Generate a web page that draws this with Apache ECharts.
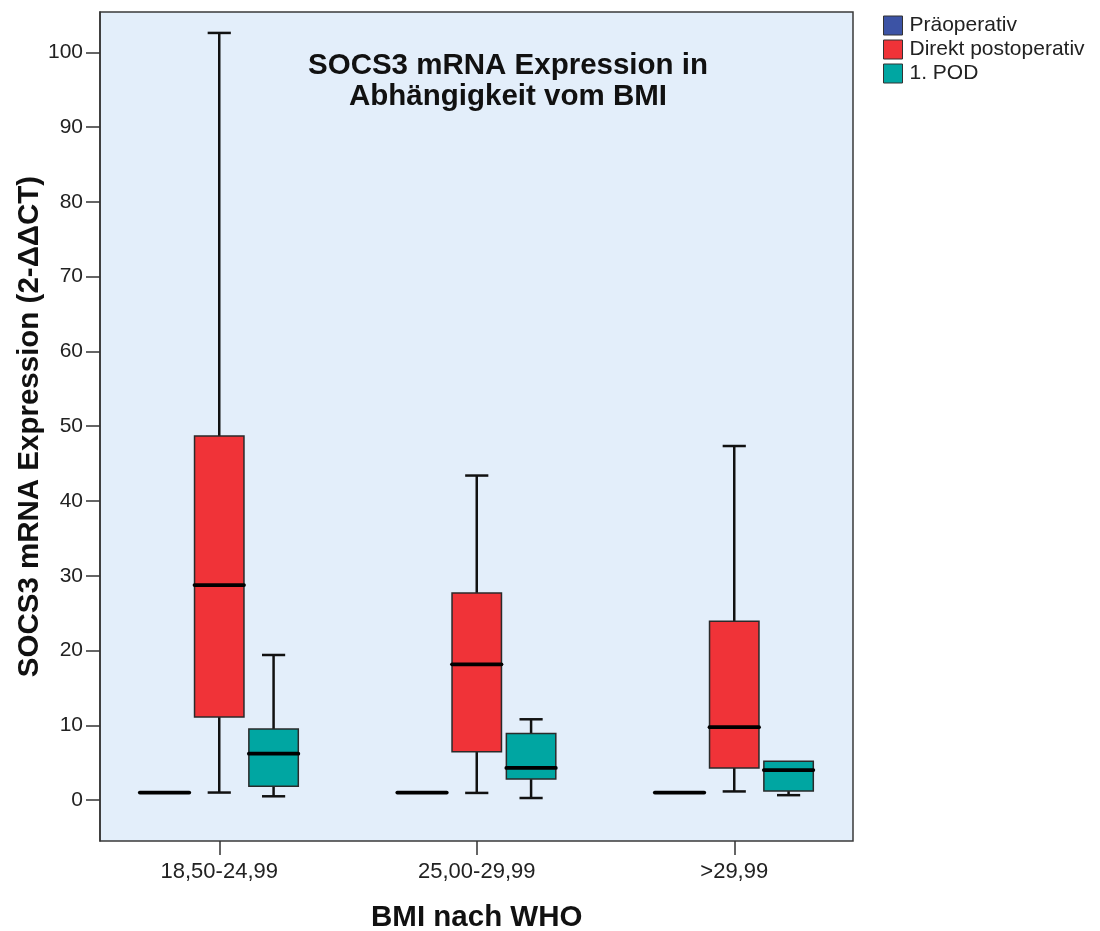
<!DOCTYPE html>
<html><head><meta charset="utf-8">
<script src="https://cdn.jsdelivr.net/npm/echarts@6/dist/echarts.min.js"></script>
<style>html,body{margin:0;padding:0;background:#fff}#c{width:1100px;height:931px}</style>
</head><body><div id="c"></div>
<script>
// ---- data ----
const categories = ['18,50-24,99', '25,00-29,99', '>29,99'];
const seriesNames = ['Präoperativ', 'Direkt postoperativ', '1. POD'];
// each row: [min, Q1, median, Q3, max]
const praeoperativ = [[1, 1, 1, 1, 1], [1, 1, 1, 1, 1], [1, 1, 1, 1, 1]];
const direktPostoperativ = [[1.0, 11.1, 28.75, 48.7, 102.6], [0.95, 6.45, 18.15, 27.7, 43.4], [1.15, 4.3, 9.75, 23.9, 47.35]];
const pod1 = [[0.5, 1.85, 6.2, 9.5, 19.4], [0.27, 2.8, 4.3, 8.9, 10.8], [0.65, 1.2, 4.0, 5.2, 5.2]];
const yTicks = [0, 10, 20, 30, 40, 50, 60, 70, 80, 90, 100];
const Y_MIN = -5.48, Y_MAX = 105.4;

// ---- styles ----
const colors = ['#3c53a5', '#f03338', '#00a6a2'];
const offsets = [-0.2125, 0, 0.2110];
const BOX_W = 0.192, CAP_W = 0.09;
const FONT = 'Liberation Sans, Arial, sans-serif';

function renderer(offset, fill) {
  return function (params, api) {
    const c = api.value(0);
    const band = api.size([1, 0])[0];
    const cx = api.coord([c, 0])[0] + offset * band;
    const hw = BOX_W * band / 2, cw = CAP_W * band / 2;
    const y = i => api.coord([c, api.value(i)])[1];
    const yMin = y(1), yQ1 = y(2), yMed = y(3), yQ3 = y(4), yMax = y(5);
    const wl = { stroke: '#111', lineWidth: 2.5, fill: null };
    const ch = [];
    if (yQ3 - yMax > 0.5) {
      ch.push({ type: 'line', shape: { x1: cx, y1: yQ3, x2: cx, y2: yMax }, style: wl });
      ch.push({ type: 'line', shape: { x1: cx - cw, y1: yMax, x2: cx + cw, y2: yMax }, style: wl });
    }
    if (yMin - yQ1 > 0.5) {
      ch.push({ type: 'line', shape: { x1: cx, y1: yQ1, x2: cx, y2: yMin }, style: wl });
      ch.push({ type: 'line', shape: { x1: cx - cw, y1: yMin, x2: cx + cw, y2: yMin }, style: wl });
    }
    ch.push({ type: 'rect', shape: { x: cx - hw, y: yQ3, width: 2 * hw, height: yQ1 - yQ3 },
      style: { fill: fill, stroke: '#2a2a2a', lineWidth: 1.5 } });
    ch.push({ type: 'line', shape: { x1: cx - hw, y1: yMed, x2: cx + hw, y2: yMed },
      style: { stroke: '#000', lineWidth: 3.8, lineCap: 'round' } });
    return { type: 'group', children: ch };
  };
}

const allData = [praeoperativ, direktPostoperativ, pod1];
const series = seriesNames.map((name, s) => ({
  name: name,
  type: 'custom',
  xAxisIndex: 1, yAxisIndex: 1,
  itemStyle: { color: colors[s] },
  encode: { x: 0, y: [1, 2, 3, 4, 5] },
  renderItem: renderer(offsets[s], colors[s]),
  data: allData[s].map((r, i) => [i].concat(r))
}));

const chart = echarts.init(document.getElementById('c'), null, { renderer: 'canvas' });
chart.setOption({
  animation: false,
  backgroundColor: '#ffffff',
  textStyle: { fontFamily: FONT },
  title: {
    text: 'SOCS3 mRNA Expression in\nAbhängigkeit vom BMI',
    left: 503, top: 45, textAlign: 'center',
    textStyle: { fontFamily: FONT, fontSize: 29.5, fontWeight: 'bold', color: '#111', lineHeight: 31 }
  },
  legend: {
    orient: 'vertical', left: 878, top: 10,
    itemWidth: 19, itemHeight: 19, itemGap: 3,
    icon: 'rect',
    itemStyle: { borderColor: '#333', borderWidth: 1 },
    textStyle: { fontFamily: FONT, fontSize: 21, color: '#222', padding: [0, 0, 0, 2] },
    data: seriesNames
  },
  grid: [
    { left: 100, top: 12, width: 753, height: 829, show: true, backgroundColor: '#e3eefa', borderColor: '#3a3a3a', borderWidth: 1.5, outerBoundsMode: 'none', containLabel: false },
    { left: 90.5, top: 12, width: 772.5, height: 829, outerBoundsMode: 'none', containLabel: false }
  ],
  xAxis: [
    { gridIndex: 0, type: 'value', show: false, min: 0, max: 1 },
    {
      gridIndex: 1, type: 'category', data: categories,
      axisLine: { show: false, onZero: false },
      axisTick: { show: true, alignWithLabel: true, length: 14, lineStyle: { color: '#333', width: 1.5 } },
      axisLabel: { fontSize: 22, color: '#222', margin: 20, fontFamily: FONT },
      name: 'BMI nach WHO', nameLocation: 'middle', nameGap: 62,
      nameTextStyle: { fontSize: 29.5, fontWeight: 'bold', color: '#111', fontFamily: FONT }
    }
  ],
  yAxis: [
    {
      gridIndex: 0, type: 'value', min: Y_MIN, max: Y_MAX,
      axisLine: { show: true, onZero: false, lineStyle: { color: '#333', width: 1.5 } },
      axisTick: { show: true, inside: false, customValues: yTicks, length: 14, lineStyle: { color: '#333', width: 1.5 } },
      axisLabel: { customValues: yTicks, fontSize: 21, color: '#222', margin: 17, fontFamily: FONT },
      splitLine: { show: false },
      name: 'SOCS3 mRNA Expression (2-ΔΔCT)', nameLocation: 'middle', nameGap: 55, nameMoveOverlap: false,
      nameTextStyle: { fontSize: 29.5, fontWeight: 'bold', color: '#111', fontFamily: FONT }
    },
    { gridIndex: 1, type: 'value', min: Y_MIN, max: Y_MAX, show: false }
  ],
  series: series
});
</script></body></html>
